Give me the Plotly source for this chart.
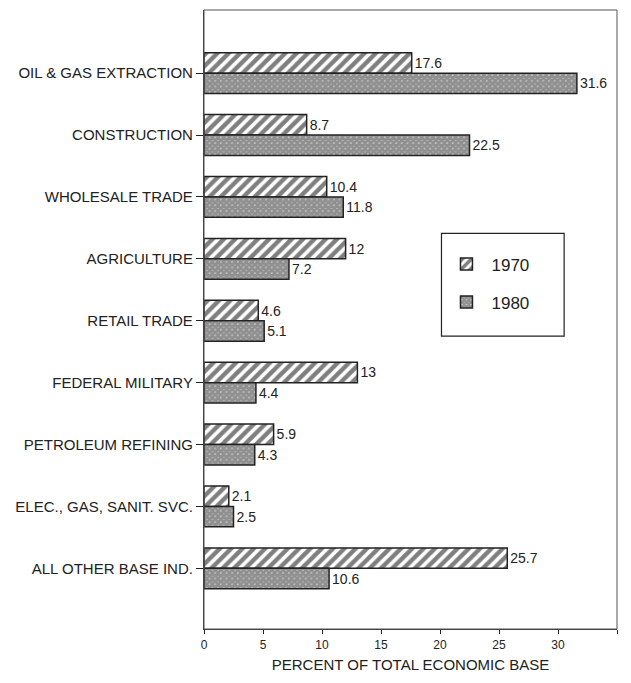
import plotly.graph_objects as go

categories = ["OIL & GAS EXTRACTION", "CONSTRUCTION", "WHOLESALE TRADE", "AGRICULTURE",
              "RETAIL TRADE", "FEDERAL MILITARY", "PETROLEUM REFINING",
              "ELEC., GAS, SANIT. SVC.", "ALL OTHER BASE IND."]
values_1970 = [17.6, 8.7, 10.4, 12, 4.6, 13, 5.9, 2.1, 25.7]
values_1980 = [31.6, 22.5, 11.8, 7.2, 5.1, 4.4, 4.3, 2.5, 10.6]
x_ticks = [0, 5, 10, 15, 20, 25, 30, 35]

FONT = "Liberation Sans, Arial, sans-serif"
INK = "#222222"

fig = go.Figure()
fig.add_trace(go.Bar(
    y=categories, x=values_1970, orientation="h", name="1970", legendgroup="a",
    marker=dict(color="white", line=dict(color=INK, width=1.5),
                pattern=dict(shape="/", size=8, solidity=0.55, fgcolor="#000", bgcolor="white")),
    text=[str(v) for v in values_1970], textposition="outside", cliponaxis=False,
    textfont=dict(family=FONT, size=14, color=INK),
))
fig.add_trace(go.Bar(
    y=categories, x=values_1980, orientation="h", name="1980", legendgroup="b",
    marker=dict(color="white", line=dict(color=INK, width=1.5),
                pattern=dict(shape="x", size=4, solidity=0.92, fgcolor="#222", bgcolor="white")),
    text=[str(v) for v in values_1980], textposition="outside", cliponaxis=False,
    textfont=dict(family=FONT, size=14, color=INK),
))

# page body adds an 8px margin all round, so the figure is sized to fit the visible window
fig.update_layout(
    width=615, height=667,
    margin=dict(l=196, r=6, t=2, b=46, autoexpand=False),
    paper_bgcolor="white", plot_bgcolor="white",
    barmode="group", bargap=0.34, bargroupgap=0.0,
    font=dict(family=FONT, color=INK),
    showlegend=True,
    legend=dict(x=0.575, y=0.618, xanchor="left", yanchor="top",
                bgcolor="rgba(0,0,0,0)", borderwidth=0,
                font=dict(size=17, color=INK, family=FONT),
                itemwidth=40, tracegroupgap=13),
    shapes=[
        dict(type="rect", xref="paper", yref="paper",
             x0=0.575, x1=0.872, y0=0.473, y1=0.639,
             line=dict(color=INK, width=1.2), fillcolor="rgba(0,0,0,0)"),
        # plot frame (top and right edges)
        dict(type="rect", xref="paper", yref="paper", x0=0, x1=1, y0=0, y1=1,
             line=dict(color="#555", width=1), fillcolor="rgba(0,0,0,0)", layer="above"),
    ],
)
fig.update_xaxes(range=[0, 35], tickvals=x_ticks, ticks="outside", ticklen=4,
                 tickcolor=INK, showline=True, linecolor="#333", linewidth=1.2,
                 showgrid=False, zeroline=False, automargin=False,
                 tickfont=dict(size=12, color=INK, family=FONT),
                 title=dict(text="PERCENT OF TOTAL ECONOMIC BASE",
                            font=dict(size=15, color=INK, family=FONT), standoff=8))
fig.update_yaxes(range=[8.98, -1.02], ticks="outside", ticklen=7, tickcolor=INK,
                 showline=True, linecolor="#333", linewidth=1.2, showgrid=False,
                 automargin=False,
                 tickfont=dict(size=15, color=INK, family=FONT))

fig.write_html("out.html")
